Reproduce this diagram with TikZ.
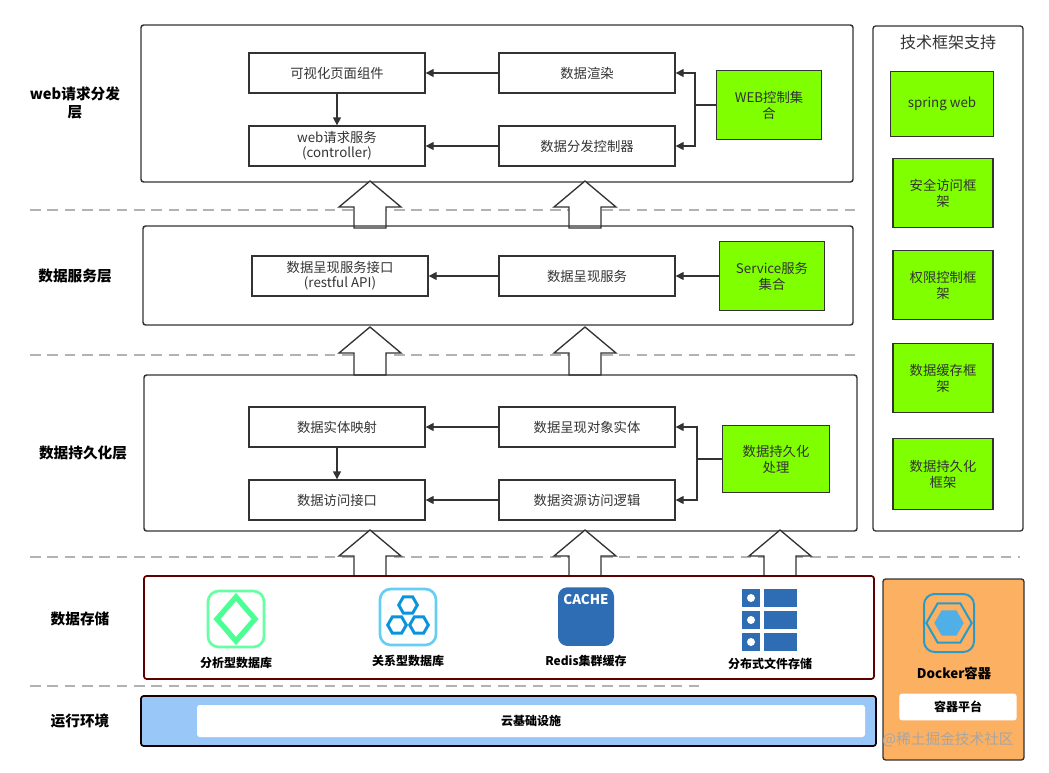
\documentclass[tikz,border=0pt]{standalone}
\usepackage{fontspec}
\setmainfont{Noto Sans CJK SC}
\usetikzlibrary{arrows.meta,shapes.geometric}
\definecolor{gr}{HTML}{7FFF00}
\definecolor{dk}{HTML}{333333}
\definecolor{org}{HTML}{FBB062}
\definecolor{lb}{HTML}{99C8F8}
\definecolor{cb}{HTML}{2E6DB4}
\tikzset{
 lay/.style={draw=dk,line width=1.1pt,rounded corners=2pt},
 bx/.style={draw=dk,line width=1pt,minimum width=132pt,minimum height=30pt,font=\fontsize{10}{12}\selectfont,align=center,text=dk},
 gbox/.style={draw=dk,line width=1pt,fill=gr,font=\fontsize{10}{12}\selectfont,align=center,text=dk},
 lbl/.style={font=\bfseries\fontsize{11}{14}\selectfont,align=center},
 arr/.style={draw=dk,line width=1pt,-{Triangle[length=6pt,width=6pt]}},
 sep/.style={draw=black!30,line width=1.5pt,dash pattern=on 8pt off 5pt},
 blk/.style={draw=dk,line width=1pt,fill=white},
 ic/.style={font=\bfseries\fontsize{9}{11}\selectfont}
}
\newcommand\blkup[3]{\draw[blk] (#1-16,#3)--(#1-16,#2+26)--(#1-31,#2+26)--(#1,#2)--(#1+31,#2+26)--(#1+16,#2+26)--(#1+16,#3)--cycle;}
\begin{document}
\begin{tikzpicture}[x=0.75pt,y=-0.75pt]
\useasboundingbox (0,0) rectangle (1049,772);
% layer 1
\draw[lay] (141,25) rectangle (853,182);
\node[lbl] (l1) at (75,103) {web请求分发\\层};
\node[bx] (a1) at (337,73) {可视化页面组件};
\node[bx] (a2) at (587,73) {数据渲染};
\node[bx,font=\fontsize{10}{11}\selectfont] (a3) at (337,146) {web请求服务\\(controller)};
\node[bx] (a4) at (587,146) {数据分发控制器};
\node[gbox,minimum width=79pt,minimum height=52pt] (g1) at (769,105) {WEB控制集\\合};
\draw[arr] (a2)--(a1); \draw[arr] (a4)--(a3); \draw[arr] (a1)--(a3);
\draw[dk,line width=1pt] (g1.west)--(695,105);
\draw[arr] (695,105)|-(a2.east); \draw[arr] (695,105)|-(a4.east);
\draw[sep] (30,210)--(855,210);
\blkup{370}{181}{228}\blkup{585}{181}{228}
% layer 2
\draw[lay] (143,226) rectangle (853,325);
\node[lbl] (l2) at (75,276) {数据服务层};
\node[bx,font=\fontsize{10}{11}\selectfont] (b1) at (340,276) {数据呈现服务接口\\(restful API)};
\node[bx] (b2) at (587,276) {数据呈现服务};
\node[gbox,minimum width=79pt,minimum height=52pt] (g2) at (772,276) {Service服务\\集合};
\draw[arr] (b2)--(b1); \draw[arr] (g2)--(b2);
\draw[sep] (30,355)--(855,355);
\blkup{370}{327}{375}\blkup{585}{327}{375}
% layer 3
\draw[lay] (144,375) rectangle (857,531);
\node[lbl] (l3) at (83,453) {数据持久化层};
\node[bx] (c1) at (337,427) {数据实体映射};
\node[bx] (c2) at (587,427) {数据呈现对象实体};
\node[bx] (c3) at (337,500) {数据访问接口};
\node[bx] (c4) at (587,500) {数据资源访问逻辑};
\node[gbox,minimum width=80pt,minimum height=50pt] (g3) at (776,459) {数据持久化\\处理};
\draw[arr] (c2)--(c1); \draw[arr] (c4)--(c3); \draw[arr] (c1)--(c3);
\draw[dk,line width=1pt] (g3.west)--(697,459);
\draw[arr] (697,459)|-(c2.east); \draw[arr] (697,459)|-(c4.east);
\draw[sep] (30,557)--(1020,557);
\blkup{370}{530}{576}\blkup{585}{530}{576}\blkup{780}{530}{576}
% storage
\draw[draw=black!40!red!60!black,line width=1.3pt,rounded corners=2pt] (144,576) rectangle (874,679);
\node[lbl] (l4) at (80,619) {数据存储};
% icon 1
\draw[draw=green!60!cyan!60,line width=2pt,rounded corners=8pt] (208,591) rectangle (264,647);
\draw[draw=green!60!cyan!70,line width=4pt] (236,597) -- (255,619) -- (236,641) -- (217,619) -- cycle;
\node[ic] (t1) at (236,663) {分析型数据库};
% icon 2
\draw[draw=cyan!60,line width=2pt,rounded corners=8pt] (380,589) rectangle (436,645);
\foreach \p in {(408,605),(397,625),(419,625)}
 \node[draw=cyan!80!blue,line width=2.2pt,regular polygon,regular polygon sides=6,minimum size=14pt,inner sep=0pt] at \p {};
\node[ic] (t2) at (408,661) {关系型数据库};
% icon 3
\node[fill=cb,rounded corners=7pt,minimum width=42pt,minimum height=44pt,anchor=north] (cache) at (586,587) {};
\node[font=\bfseries\fontsize{10}{12}\selectfont,text=white,anchor=north] at (586,590) {CACHE};
\node[ic] (t3) at (586,661) {Redis集群缓存};
% icon 4
\foreach \r in {0,1,2}{
 \fill[cb] (742,589+\r*22) rectangle (760,607+\r*22);
 \fill[cb] (764,589+\r*22) rectangle (797,607+\r*22);
 \fill[white] (751,598+\r*22) circle (4);
}
\node[ic] (t4) at (770,664) {分布式文件存储};
\draw[sep] (30,686)--(700,686);
% runtime
\draw[draw=black!70!red!30!black,line width=1.3pt,fill=lb,rounded corners=2pt] (141,696) rectangle (876,746);
\node[fill=white,rounded corners=2pt,minimum width=501pt,minimum height=24pt,font=\bfseries\fontsize{9}{11}\selectfont] (cloud) at (531,721) {云基础设施};
\node[lbl] (l5) at (80,721) {运行环境};
% tech
\draw[lay,line width=1pt] (873,26) rectangle (1023,531);
\node[font=\fontsize{12}{14}\selectfont,text=dk] (tt) at (948,42) {技术框架支持};
\node[gbox,minimum width=77pt,minimum height=49pt] (s1) at (942,104) {spring web};
\node[gbox,minimum width=75pt,minimum height=52pt] (s2) at (943,193) {安全访问框\\架};
\node[gbox,minimum width=75pt,minimum height=52pt] (s3) at (943,285) {权限控制框\\架};
\node[gbox,minimum width=75pt,minimum height=52pt] (s4) at (943,378) {数据缓存框\\架};
\node[gbox,minimum width=75pt,minimum height=53pt] (s5) at (943,474) {数据持久化\\框架};
% docker
\draw[draw=dk,line width=1pt,fill=org,rounded corners=2pt] (883,579) rectangle (1024,760);
\draw[draw=cyan!60!teal,line width=1.5pt,rounded corners=8pt] (924,594) rectangle (974,652);
\node[draw=cyan!60!teal,line width=1.5pt,regular polygon,regular polygon sides=6,minimum size=34pt,inner sep=0pt] at (949,623) {};
\node[fill=cyan!80!blue!70,regular polygon,regular polygon sides=6,minimum size=22pt,inner sep=0pt] at (949,623) {};
\node[font=\bfseries\fontsize{10}{12}\selectfont] (dk) at (954,673) {Docker容器};
\node[fill=white,rounded corners=2pt,minimum width=88pt,minimum height=20pt,font=\bfseries\fontsize{9}{11}\selectfont] (cp) at (958,707) {容器平台};
\node[text=black!35,font=\fontsize{11}{13}\selectfont] (wm) at (948,740) {@稀土掘金技术社区};
\end{tikzpicture}
\end{document}
